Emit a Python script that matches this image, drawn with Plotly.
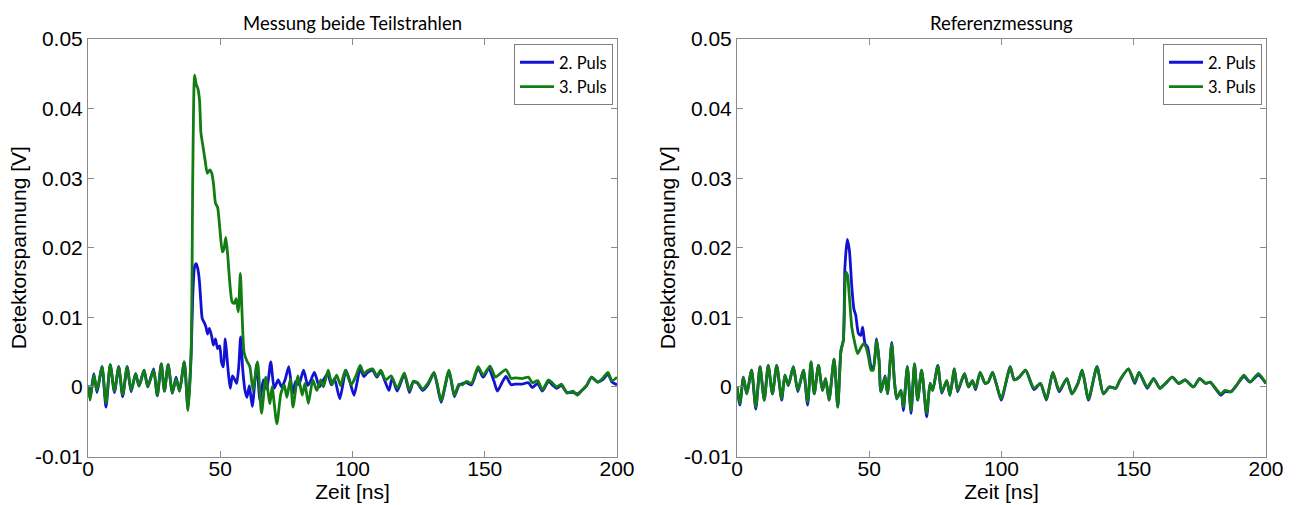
import numpy as np
import plotly.graph_objects as go

# ---------------- data (time in ns, voltage in mV) ----------------
left_green_t = [0.0, 0.8, 2.2, 3.4, 5.3, 6.8, 8.4, 10.0, 11.6, 13.1, 14.8, 16.3, 18.0, 19.3, 21.2, 22.6,
                24.8, 26.2, 27.7, 28.9, 30.3, 31.9, 33.3, 34.6, 36.4, 37.8, 39.0, 39.6, 40.3, 40.9, 41.6,
                42.2, 42.7, 43.5, 44.3, 45.1, 46.0, 46.8, 47.5, 48.2, 49.0, 49.9, 50.8, 51.4, 52.1, 52.8,
                53.6, 54.5, 55.3, 56.0, 56.8, 57.6, 58.2, 59.0, 60.0, 61.2, 62.4, 64.1, 65.6, 67.2, 68.8,
                69.6, 71.4, 72.9, 74.2, 75.2, 76.5, 77.5, 79.4, 81.0, 82.0, 83.3, 85.0, 86.5, 88.0, 89.0,
                90.8, 92.3, 94.0, 95.5, 97.3, 99.5, 101.2, 102.9, 104.3, 105.5, 107.6, 109.2, 110.7, 112.5,
                114.6, 116.9, 119.6, 121.5, 123.0, 124.6, 126.5, 128.5, 130.8, 132.0, 133.5, 136.5, 138.5,
                140.2, 141.5, 143.2, 145.0, 147.5, 149.4, 152.0, 154.0, 155.5, 158.0, 160.0, 161.5, 164.1,
                166.5, 168.0, 170.0, 171.8, 174.1, 175.5, 177.2, 179.0, 181.1, 183.4, 185.0, 187.0, 188.5,
                190.4, 192.7, 194.5, 196.6, 198.1, 200.0]
left_green_mv = [0.2, -1.9, 1.7, -0.5, 2.9, -2.3, 3.2, -0.6, 2.9, -1.1, 2.9, -0.5, 1.9, 0.1, 2.4, 0.0,
                 2.4, -1.2, 3.3, -0.6, 3.2, -0.9, 1.2, -0.6, 3.6, -3.4, 5.0, 30.0, 44.8, 43.5, 42.8,
                 41.0, 36.5, 34.5, 32.5, 30.7, 31.2, 30.7, 29.0, 26.4, 25.8, 22.5, 19.4, 19.8, 21.5, 19.0,
                 15.0, 12.2, 12.0, 12.7, 10.8, 16.3, 11.0, 5.0, 3.8, 2.9, -0.5, 3.6, -3.8, 1.4, -2.4,
                 0.0, -5.3, -1.0, 0.3, -1.5, 1.1, -2.9, 1.6, -1.2, 0.5, -2.4, 1.0, -0.5, 1.0, 0.0,
                 2.4, 0.3, 1.7, 0.2, 2.4, 0.3, 1.5, 3.1, 1.9, 2.3, 2.6, 1.6, 2.4, 1.0,
                 1.6, -0.2, 2.0, -0.5, 0.8, 0.6, -0.3, 0.5, 2.1, 0.5, -2.0, 2.4, -1.2,
                 0.4, 0.3, 0.8, 0.5, 2.9, 1.7, 3.0, 1.4, 1.8, 2.5, 1.2, 1.3, 1.2,
                 1.4, 0.6, 0.9, -0.4, 1.0, 0.6, 0.0, 0.4, -0.9, -0.6, -1.2, -0.4, 0.2,
                 1.4, 0.7, 1.2, 2.1, 0.9, 1.4]

left_blue_t = [0.0, 0.8, 2.2, 3.4, 5.3, 6.8, 8.4, 10.0, 11.6, 13.1, 14.8, 16.3, 18.0, 19.3, 21.2, 22.6,
               24.8, 26.2, 27.7, 28.9, 30.3, 31.9, 33.3, 34.6, 36.4, 37.8, 39.0, 39.6, 40.3, 40.9, 41.5,
               42.1, 42.7, 43.2, 44.0, 44.6, 45.2, 45.9, 46.8, 47.4, 48.2, 49.0, 49.8, 50.5, 51.2, 51.9,
               52.6, 53.2, 53.8, 54.6, 55.3, 56.2, 57.0, 57.7, 58.5, 59.4, 60.1, 61.0, 62.1, 63.8, 65.0,
               66.3, 67.6, 69.1, 70.4, 71.9, 73.2, 74.5, 75.9, 77.4, 78.5, 79.7, 81.5, 83.1, 84.3, 85.6,
               87.5, 89.0, 90.6, 92.0, 93.2, 95.2, 97.5, 99.0, 100.6, 102.9, 104.3, 105.5, 107.6, 109.2,
               110.7, 112.5, 113.8, 115.0, 116.9, 119.6, 121.5, 123.0, 124.6, 126.5, 128.5, 130.8, 132.0,
               133.5, 136.5, 138.5, 140.2, 141.5, 143.2, 145.0, 147.5, 149.4, 151.5, 153.5, 154.8, 156.5,
               158.0, 160.0, 161.5, 164.1, 166.5, 168.0, 170.0, 171.8, 174.1, 175.5, 177.2, 179.0, 181.1,
               183.4, 185.0, 187.0, 188.5, 190.4, 192.7, 194.5, 196.6, 198.1, 200.0]
left_blue_mv = [0.2, -1.5, 1.9, -0.8, 2.9, -2.9, 3.2, -0.8, 2.9, -1.4, 2.9, -0.7, 1.9, 0.1, 2.4, 0.0,
                2.6, -1.3, 3.3, -0.6, 3.2, -0.9, 1.4, -0.6, 3.6, -3.2, 4.8, 13.0, 17.3, 17.7, 17.0,
                15.3, 12.0, 9.8, 9.2, 8.6, 7.6, 8.4, 7.2, 6.0, 6.9, 5.5, 5.9, 3.5, 2.9, 6.9,
                4.0, 1.5, -0.2, 1.6, 1.2, 0.5, 3.0, 7.2, 2.5, -0.6, -1.5, 0.2, -2.8, 3.3, -1.9,
                1.0, -0.3, 3.6, -0.2, 1.0, 0.0, 1.0, 2.9, -1.0, 0.8, 0.3, 2.4, 0.2, 1.0, 2.1,
                0.0, 1.0, 1.9, 0.3, 1.2, -1.7, 2.4, 0.8, -1.2, 2.6, 1.5, 2.0, 2.4, 1.4,
                2.2, 0.6, -0.5, 1.3, -0.6, 1.8, -0.8, 0.7, 0.5, -0.5, 0.3, 2.0, 0.3,
                -2.2, 2.3, -1.4, 0.2, 0.5, 0.6, 0.3, 2.7, 1.4, 2.6, 0.8, -0.6, 0.6,
                1.5, 0.3, 0.4, 0.4, 0.6, -0.1, 0.5, -0.6, 0.8, 0.3, -0.2, 0.2, -0.8,
                -0.8, -1.0, -0.4, 0.2, 1.4, 0.7, 1.0, 1.8, 0.7, 0.3]

right_green_t = [0.0, 1.1, 2.4, 3.7, 5.5, 7.1, 8.7, 10.3, 11.8, 13.4, 15.0, 16.9, 18.1, 19.4, 21.3, 23.0,
                 25.1, 26.7, 28.0, 29.2, 30.8, 32.3, 33.5, 34.8, 36.7, 38.1, 39.3, 40.2, 41.2, 41.8, 42.5,
                 43.4, 44.6, 45.6, 46.9, 47.8, 48.8, 49.7, 50.7, 51.5, 52.8, 53.7, 54.4, 56.0, 56.9, 58.5,
                 59.5, 60.4, 62.0, 62.9, 64.4, 65.8, 67.1, 68.3, 69.8, 71.7, 73.0, 74.0, 75.9, 77.4, 79.3,
                 80.5, 82.2, 83.4, 86.0, 87.5, 89.0, 90.2, 91.9, 93.8, 95.0, 96.6, 98.0, 99.9, 103.3, 104.8,
                 106.7, 109.1, 112.3, 114.7, 117.0, 119.4, 121.8, 124.7, 126.6, 128.9, 130.5, 132.9, 136.1,
                 138.5, 140.8, 143.2, 144.8, 148.0, 150.4, 152.0, 155.1, 157.5, 159.9, 162.0, 164.6, 167.0,
                 169.4, 172.6, 174.9, 177.3, 178.9, 182.9, 184.5, 186.8, 189.0, 191.6, 194.0, 197.1, 200.0]
right_green_mv = [0.0, -2.4, 1.4, -1.0, 2.4, -2.9, 2.9, -1.9, 3.1, -1.0, 3.1, -1.7, 1.7, 0.2, 2.9, -0.5,
                  2.4, -2.2, 3.6, -1.0, 3.1, -0.5, 1.2, -1.9, 4.0, -2.9, 5.2, 6.7, 16.5, 16.0, 12.9,
                  8.6, 6.2, 4.8, 5.7, 6.2, 5.7, 4.3, 2.4, 2.4, 6.7, 3.8, -0.7, 1.4, -1.0, 6.2,
                  0.9, -1.7, -0.5, -2.9, 2.9, -3.4, 3.3, -1.9, 2.4, -3.8, 0.5, -0.5, 3.1, -0.7, 0.9,
                  -1.2, 2.6, -0.5, 1.9, 0.0, 0.9, -0.2, 2.1, 0.5, 0.7, 2.1, 0.5, -1.7, 2.9, 1.0,
                  1.4, 2.4, -0.2, 0.5, -1.7, 2.1, -0.5, 1.2, -1.0, 0.5, 2.4, -1.7, 2.9,
                  -1.0, 0.0, -0.2, 1.0, 2.6, 0.7, 2.1, 0.0, 1.2, -0.2, 0.5, 1.4, 0.5,
                  1.0, 0.0, 1.2, 0.5, 0.7, -1.0, -0.5, -0.7, 0.3, 1.7, 0.7, 1.9, 0.5]

right_blue_t = [0.0, 1.1, 2.4, 3.7, 5.5, 7.1, 8.7, 10.3, 11.8, 13.4, 15.0, 16.9, 18.1, 19.4, 21.3, 23.0,
                25.1, 26.7, 28.0, 29.2, 30.8, 32.3, 33.5, 34.8, 36.7, 38.1, 39.3, 40.2, 40.8, 41.7, 42.5,
                43.4, 44.2, 44.9, 45.9, 46.8, 47.5, 48.4, 49.4, 50.7, 51.5, 52.8, 53.7, 54.4, 56.0, 56.9,
                58.5, 59.5, 60.4, 62.0, 62.9, 64.4, 65.8, 67.1, 68.3, 69.8, 71.7, 73.0, 74.0, 75.9, 77.4,
                79.3, 80.5, 82.2, 83.4, 86.0, 87.5, 89.0, 90.2, 91.9, 93.8, 95.0, 96.6, 98.0, 99.9, 103.3,
                104.8, 106.7, 109.1, 112.3, 114.7, 117.0, 119.4, 121.8, 124.7, 126.6, 128.9, 130.5, 132.9,
                136.1, 138.5, 140.8, 143.2, 144.8, 148.0, 150.4, 152.0, 155.1, 157.5, 159.9, 162.0, 164.6,
                167.0, 169.4, 172.6, 174.9, 177.3, 178.9, 182.9, 184.5, 186.8, 189.0, 191.6, 194.0, 197.1,
                200.0]
right_blue_mv = [0.0, -2.6, 1.4, -1.0, 2.4, -3.2, 2.9, -1.9, 3.1, -1.0, 3.1, -1.9, 1.7, 0.2, 2.9, -0.7,
                 2.4, -2.6, 3.6, -1.0, 3.1, -0.5, 1.2, -1.9, 4.0, -2.9, 5.2, 6.7, 17.2, 21.2, 19.6,
                 14.4, 11.2, 10.3, 7.7, 7.4, 8.6, 6.2, 5.7, 2.9, 2.6, 6.9, 3.8, -0.7, 1.6, -1.0,
                 6.4, 0.9, -1.7, -0.5, -3.4, 2.9, -3.8, 3.3, -1.9, 2.4, -4.3, 0.5, -0.5, 3.1, -0.9,
                 0.9, -1.2, 2.6, -0.7, 1.9, 0.0, 0.9, -0.4, 2.1, 0.5, 0.7, 2.1, 0.5, -1.9, 2.9,
                 1.0, 1.4, 2.4, -0.4, 0.5, -1.9, 2.1, -0.7, 1.2, -1.0, 0.5, 2.4, -1.9,
                 2.9, -1.0, 0.0, -0.2, 1.0, 2.6, 0.5, 2.1, -0.2, 1.2, -0.2, 0.5, 1.4,
                 0.5, 1.0, 0.0, 1.2, 0.5, 0.7, -1.2, -0.7, -0.7, 0.3, 1.5, 0.7, 1.7,
                 0.5]

series_names = ["2. Puls", "3. Puls"]
panel_titles = ["Messung beide Teilstrahlen", "Referenzmessung"]
x_tickvals = [0, 50, 100, 150, 200]
x_ticktext = ["0", "50", "100", "150", "200"]
y_tickvals = [-0.01, 0.0, 0.01, 0.02, 0.03, 0.04, 0.05]
y_ticktext = ["-0.01", "0", "0.01", "0.02", "0.03", "0.04", "0.05"]
x_title = "Zeit [ns]"
y_title = "Detektorspannung [V]"

# ---------------- styling ----------------
W, H = 1298, 505
BLUE = "#1212D4"
GREEN = "#127D12"
AX = "#8a8a8a"
TICKFONT = dict(family="Liberation Sans, Arial, sans-serif", size=21, color="black")
TITLEFONT = dict(family="Lato, Carlito, sans-serif", size=18.5, color="black")
LEGFONT = dict(family="Lato, Carlito, sans-serif", size=16.5, color="black")

dom_y = [1 - 456.5 / H, 1 - 39 / H]
dom_x1 = [88 / W, 617 / W]
dom_x2 = [737 / W, 1266 / W]

fig = go.Figure()

def add(t, mv, name, color, xa, ya, leg):
    fig.add_trace(go.Scatter(
        x=t, y=np.array(mv) / 1000.0, mode="lines", name=name,
        line=dict(color=color, width=2.8, shape="spline", smoothing=0.6),
        xaxis=xa, yaxis=ya, legend=leg, showlegend=True))

add(left_blue_t, left_blue_mv, series_names[0], BLUE, "x", "y", "legend")
add(left_green_t, left_green_mv, series_names[1], GREEN, "x", "y", "legend")
add(right_blue_t, right_blue_mv, series_names[0], BLUE, "x2", "y2", "legend2")
add(right_green_t, right_green_mv, series_names[1], GREEN, "x2", "y2", "legend2")

def xaxis(dom, anchor):
    return dict(domain=dom, anchor=anchor, range=[0, 200], tickvals=x_tickvals, ticktext=x_ticktext,
                showline=True, linecolor=AX, linewidth=1, mirror="ticks", ticks="inside",
                ticklen=6, tickcolor=AX, showgrid=False, zeroline=False, tickfont=TICKFONT,
                ticklabelstandoff=-7,
                title=dict(text=x_title, font=TICKFONT, standoff=5), automargin=False)

def yaxis(anchor):
    return dict(domain=dom_y, anchor=anchor, range=[-0.01, 0.05], tickvals=y_tickvals,
                ticktext=y_ticktext, showline=True, linecolor=AX, linewidth=1, mirror="ticks",
                ticks="inside", ticklen=6, tickcolor=AX, showgrid=False, zeroline=False,
                tickfont=TICKFONT, ticklabelstandoff=0,
                title=dict(text=y_title, font=TICKFONT, standoff=2), automargin=False)

leg_common = dict(font=LEGFONT, bgcolor="white", bordercolor="#7f7f7f", borderwidth=1,
                  xanchor="right", yanchor="top", y=1 - 44 / H, tracegroupgap=0, itemwidth=34)

fig.update_layout(
    width=W, height=H, margin=dict(l=0, r=0, t=0, b=0),
    paper_bgcolor="white", plot_bgcolor="white",
    xaxis=xaxis(dom_x1, "y"), yaxis=yaxis("x"),
    xaxis2=xaxis(dom_x2, "y2"), yaxis2=yaxis("x2"),
    legend=dict(x=613 / W, **leg_common),
    legend2=dict(x=1262 / W, **leg_common),
    annotations=[
        dict(text=panel_titles[0], x=(dom_x1[0] + dom_x1[1]) / 2, y=1 - 23 / H, xref="paper",
             yref="paper", showarrow=False, font=TITLEFONT, xanchor="center", yanchor="middle"),
        dict(text=panel_titles[1], x=(dom_x2[0] + dom_x2[1]) / 2, y=1 - 23 / H, xref="paper",
             yref="paper", showarrow=False, font=TITLEFONT, xanchor="center", yanchor="middle"),
    ],
)

fig.write_html("out.html")
